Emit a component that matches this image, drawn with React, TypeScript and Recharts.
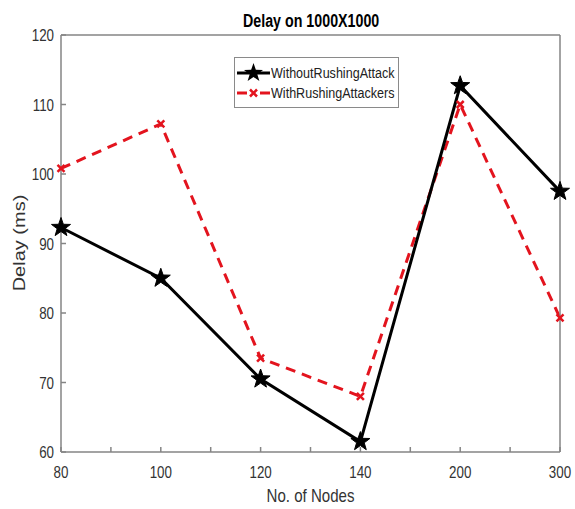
import React from 'react';
import { LineChart, Line, XAxis, YAxis } from 'recharts';

const categories = ['80', '100', '120', '140', '200', '300'];
const withoutRushingAttack = [92.3, 85.0, 70.5, 61.5, 112.7, 97.5];
const withRushingAttackers = [100.8, 107.2, 73.5, 68.0, 110.0, 79.3];
const yTicks = [60, 70, 80, 90, 100, 110, 120];
const xTicks = [0, 0.5, 1, 1.5, 2, 2.5, 3, 3.5, 4, 4.5, 5];

const data = categories.map((c, i) => ({
  x: i,
  label: c,
  without: withoutRushingAttack[i],
  withR: withRushingAttackers[i],
}));

const FONT = '"Liberation Sans", Arial, sans-serif';
const AXIS = '#858585';
const TEXT = '#333333';
const RED = '#e3141e';
const SQ = 0.81;

function starPoints(cx: number, cy: number, R: number, r: number) {
  const pts: string[] = [];
  for (let i = 0; i < 10; i++) {
    const a = (-90 + i * 36) * Math.PI / 180;
    const rad = i % 2 === 0 ? R : r;
    pts.push(`${cx + rad * Math.cos(a)},${cy + rad * Math.sin(a)}`);
  }
  return pts.join(' ');
}

const StarDot = (props: any) => {
  const { cx, cy } = props;
  if (cx == null || cy == null) return null;
  return <polygon points={starPoints(cx, cy, 10, 4)} fill="#000" stroke="#000" strokeWidth={1} />;
};

const CrossDot = (props: any) => {
  const { cx, cy } = props;
  if (cx == null || cy == null) return null;
  const s = 3.5;
  return (
    <g stroke={RED} strokeWidth={2.5}>
      <line x1={cx - s} y1={cy - s} x2={cx + s} y2={cy + s} />
      <line x1={cx - s} y1={cy + s} x2={cx + s} y2={cy - s} />
    </g>
  );
};

const XTick = (props: any) => {
  const { x, y, payload } = props;
  const v = payload.value;
  if (!Number.isInteger(v)) return null;
  return (
    <text
      transform={`translate(${x},${y + 31}) scale(${SQ},1)`}
      textAnchor="middle"
      fill={TEXT}
      fontSize={16.5}
      fontFamily={FONT}
    >
      {categories[v]}
    </text>
  );
};

const YTick = (props: any) => {
  const { x, y, payload } = props;
  return (
    <text
      transform={`translate(${x},${y + 6}) scale(${SQ},1)`}
      textAnchor="end"
      fill={TEXT}
      fontSize={16.5}
      fontFamily={FONT}
    >
      {payload.value}
    </text>
  );
};

const LegendBox = () => (
  <div
    style={{
      position: 'absolute',
      left: 234,
      top: 57,
      border: '1px solid #8a8a8a',
      background: '#fff',
      width: 165,
      height: 51,
      boxSizing: 'border-box',
      fontFamily: FONT,
      fontSize: 15.5,
      color: '#222',
      padding: '5px 0 0 2px',
    }}
  >
    {[0, 1].map((row) => (
      <div key={row} style={{ display: 'flex', alignItems: 'center', height: 20 }}>
        <svg width={33} height={20} style={{ flex: 'none' }}>
          {row === 0 ? (
            <g>
              <line x1={0} y1={10} x2={33} y2={10} stroke="#000" strokeWidth={3} />
              <polygon points={starPoints(16.5, 10, 10, 4)} fill="#000" />
            </g>
          ) : (
            <g>
              <line x1={0} y1={10} x2={10} y2={10} stroke={RED} strokeWidth={3} />
              <line x1={23} y1={10} x2={33} y2={10} stroke={RED} strokeWidth={3} />
              <g stroke={RED} strokeWidth={2.5}>
                <line x1={13} y1={6.5} x2={20} y2={13.5} />
                <line x1={13} y1={13.5} x2={20} y2={6.5} />
              </g>
            </g>
          )}
        </svg>
        <span style={{ marginLeft: 1, display: 'inline-block', transform: `scale(${SQ},1)`, transformOrigin: 'left center', whiteSpace: 'nowrap' }}>
          {row === 0 ? 'WithoutRushingAttack' : 'WithRushingAttackers'}
        </span>
      </div>
    ))}
  </div>
);

export default function App() {
  return (
    <div style={{ position: 'absolute', left: 0, top: 0, width: 575, height: 509, background: '#fff' }}>
      <LineChart
        width={575}
        height={509}
        data={data}
        margin={{ top: 34, right: 14, left: 21, bottom: 27 }}
      >
        <XAxis
          xAxisId="bottom"
          dataKey="x"
          type="number"
          domain={[0, 5]}
          ticks={xTicks}
          interval={0}
          height={30}
          stroke={AXIS}
          strokeWidth={1.5}
          tickSize={-5}
          tickMargin={0}
          tick={<XTick />}
        />
        <XAxis
          xAxisId="top"
          dataKey="x"
          type="number"
          orientation="top"
          domain={[0, 5]}
          ticks={xTicks}
          interval={0}
          height={1}
          stroke={AXIS}
          strokeWidth={1.5}
          tickSize={-5}
          tick={false}
        />
        <YAxis
          yAxisId="left"
          domain={[60, 120]}
          ticks={yTicks}
          interval={0}
          width={40}
          stroke={AXIS}
          strokeWidth={1.5}
          tickSize={-5}
          tickMargin={12}
          tick={<YTick />}
        />
        <YAxis
          yAxisId="right"
          orientation="right"
          domain={[60, 120]}
          ticks={yTicks}
          interval={0}
          width={1}
          stroke={AXIS}
          strokeWidth={1.5}
          tickSize={-5}
          tick={false}
        />
        <Line
          xAxisId="bottom"
          yAxisId="left"
          dataKey="withR"
          name="WithRushingAttackers"
          stroke={RED}
          strokeWidth={3}
          strokeDasharray="10 7"
          dot={<CrossDot />}
          isAnimationActive={false}
        />
        <Line
          xAxisId="bottom"
          yAxisId="left"
          dataKey="without"
          name="WithoutRushingAttack"
          stroke="#000"
          strokeWidth={3}
          dot={<StarDot />}
          isAnimationActive={false}
        />
      </LineChart>
      <LegendBox />
      <div
        style={{
          position: 'absolute', left: 243, top: 11, whiteSpace: 'nowrap',
          fontFamily: FONT, fontWeight: 'bold', fontSize: 17.6, color: '#000',
          transform: `scale(${SQ},1)`, transformOrigin: 'left top',
        }}
      >
        Delay on 1000X1000
      </div>
      <div
        style={{
          position: 'absolute', left: 61, width: 499, top: 485, textAlign: 'center',
          fontFamily: FONT, fontSize: 18.6, color: TEXT,
          transform: `scale(${SQ},1)`, transformOrigin: '249.5px 0',
        }}
      >
        No. of Nodes
      </div>
      <div
        style={{
          position: 'absolute', left: 19, top: 243, width: 140, textAlign: 'center',
          fontFamily: FONT, fontSize: 20, color: TEXT,
          transform: `translate(-50%, -50%) scale(${SQ},1) rotate(-90deg)`,
          lineHeight: '22px',
          whiteSpace: 'nowrap',
        }}
      >
        Delay (ms)
      </div>
    </div>
  );
}
